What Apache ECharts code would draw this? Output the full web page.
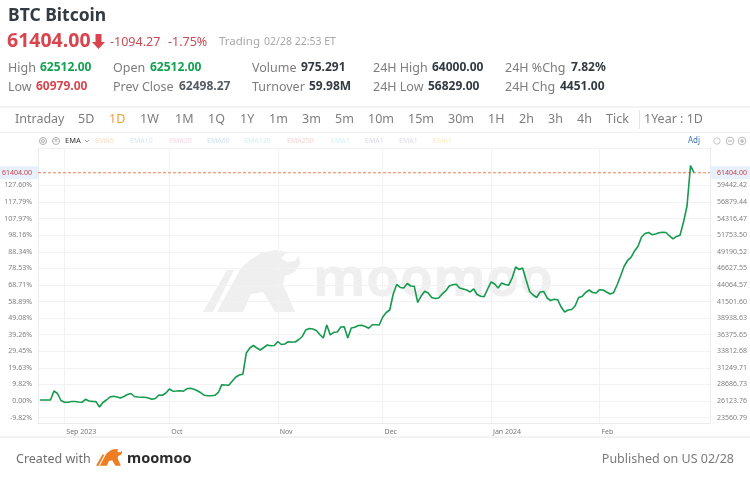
<!DOCTYPE html>
<html>
<head>
<meta charset="utf-8">
<style>html,body{margin:0;padding:0;background:#fff}#c{width:750px;height:479px}</style>
<script src="https://cdn.jsdelivr.net/npm/echarts@6/dist/echarts.min.js"></script>
</head>
<body>
<div id="c"></div>
<script>
const startDate = '2023-08-25';
const prices = [26279,26279,26279,26279,27670,27283,26201,25923,25938,26047,
26047,25969,25923,26387,26124,26062,26031,25196,25892,26279,
26742,26851,26742,26588,26820,27129,27283,26820,26742,26711,
26696,26588,26387,26511,27052,27005,27361,27979,27639,27670,
27716,27639,28010,28087,27948,27701,27392,27005,26943,26928,
27005,27438,28644,28598,28551,29216,29834,30144,30252,33545,
34318,34704,34318,34009,34395,34782,34673,34704,35323,34859,
34936,35292,35245,35245,35632,36096,37101,37333,37255,37023,
36405,35864,37874,36328,36745,36791,37564,37611,35864,37410,
37518,37796,37827,37642,37363,37920,37905,37874,39110,39806,
40193,42666,44135,43671,43594,44290,43903,43872,41352,42357,
43083,42821,42125,41971,42048,42666,43130,43903,44104,44181,
43594,43439,43285,42975,43439,42589,42326,42264,43439,44521,
44212,43594,44367,44135,44027,45140,46840,46454,46686,44831,
43053,42512,42125,42975,43053,42048,41661,41847,41785,40656,
39883,40193,40270,40811,42125,42280,42898,43285,42898,42821,
43331,43285,42975,42666,42867,44058,45449,46918,47845,48309,
49314,50056,51478,52020,52174,51834,51942,52128,52220,52174,
51633,51169,51556,51741,53797,56271,62502,61404];
const lastPrice = 61404;
const rightTicks = [23560.79,26123.76,28686.73,31249.71,33812.68,36375.65,38938.63,41501.60,44064.57,46627.55,49190.52,51753.50,54316.47,56879.44,59442.42];
const leftLabels = ['-9.82%','0.00%','9.82%','19.63%','29.45%','39.26%','49.08%','58.89%','68.71%','78.53%','88.34%','98.16%','107.97%','117.79%','127.60%'];
const monthDates = ['2023-09-01','2023-10-01','2023-11-01','2023-12-01','2024-01-01','2024-02-01'];
const monthLabels = ['Sep 2023','Oct','Nov','Dec','Jan 2024','Feb'];

const ts = s => new Date(s + 'T00:00:00').getTime();
const DAY = 86400000;
const xMin = ts(startDate) - 0.57 * DAY;
const xMax = ts(startDate) + 191.6 * DAY;
const seriesData = prices.map((p, i) => [ts(startDate) + i * DAY, p]);
const monthTs = monthDates.map(ts);

const FONT = '"Noto Sans","Open Sans",sans-serif';
const GRAY = '#7d7d7d', DARK = '#333a42', RED = '#d9454f', GREEN = '#12a150';
const t = (x, y, text, size, fill, weight, align) => ({
  type: 'text', x, y, silent: true, z: 10,
  style: { text, fontSize: size, fill, fontWeight: weight || 'normal', fontFamily: FONT, align: align || 'left', verticalAlign: 'middle' }
});
const hline = (y, x1, x2, c) => ({ type: 'line', silent: true, z: 1, shape: { x1, y1: y, x2, y2: y }, style: { stroke: c || '#e6e6e6', lineWidth: 1 } });
const vline = (x, y1, y2, c) => ({ type: 'line', silent: true, z: 1, shape: { x1: x, y1, x2: x, y2 }, style: { stroke: c || '#f0f0f0', lineWidth: 1 } });
const circ = (cx, cy, r, c) => ({ type: 'circle', silent: true, z: 10, shape: { cx, cy, r }, style: { fill: 'none', stroke: c, lineWidth: 0.8 } });

const periods = [['Intraday',15],['5D',78],['1D',109],['1W',140],['1M',175],['1Q',208],['1Y',240],['1m',269],['3m',302],['5m',335],['10m',368],['15m',408],['30m',448],['1H',488],['2h',519],['3h',548],['4h',577],['Tick',606],['1Year : 1D',644]];
const emas = [['EMA5',95,'#f8dcc4'],['EMA10',130,'#d5e6f3'],['EMA20',169,'#f8d5e4'],['EMA60',207,'#cfe0f3'],['EMA120',244,'#d2eeee'],['EMA250',287,'#f6d3d3'],['EMA1',331,'#d4f0f4'],['EMA1',365,'#d8d8ea'],['EMA1',399,'#dcdcec'],['EMA1',433,'#f8ecc0']];
// logo silhouette in a 97 x 62 box
const bullParts = [
  [[0,62],[24,20],[31,20],[10,62]],
  [[14,62],[38,18],[47,10],[58,3],[72,0],[84,2],[78,8],[84,12],[92,11],[96,5],[97,14],[92,22],[82,26],[80,34],[92,62],[72,62],[60,42],[48,44],[40,62]]
];
const logo = (x, y, scale, fill, z) => ({
  type: 'group', x, y, scaleX: scale, scaleY: scale, silent: true,
  children: bullParts.map(p => ({ type: 'polygon', z, silent: true, shape: { points: p }, style: { fill } }))
});
const lastLabel = { show: true, distance: 0, formatter: lastPrice.toFixed(2), color: '#c8434b', fontSize: 7, backgroundColor: '#e8f1fb' };

const option = {
  animation: false,
  backgroundColor: '#fff',
  textStyle: { fontFamily: FONT },
  grid: { left: 38, right: 39, top: 148, bottom: 56, show: false },
  xAxis: {
    type: 'value',
    min: xMin,
    max: xMax,
    axisLine: { show: true, onZero: false, lineStyle: { color: '#ececec' } },
    axisTick: { show: false, customValues: monthTs },
    splitLine: { show: true, lineStyle: { color: '#f2f2f2', width: 1 } },
    axisLabel: {
      customValues: monthTs, color: '#777', fontSize: 7, margin: 5, align: 'left', hideOverlap: false,
      formatter: v => ' ' + monthLabels[monthTs.indexOf(v)]
    }
  },
  yAxis: [0, 1].map(i => ({
    type: 'value',
    position: i ? 'right' : 'left',
    min: 22722, max: 65232,
    axisLine: { show: true, onZero: false, lineStyle: { color: '#ececec' } },
    axisTick: { show: false, customValues: rightTicks },
    splitLine: { show: i === 0, lineStyle: { color: '#f2f2f2', width: 1 } },
    axisLabel: {
      customValues: rightTicks, color: '#808080', fontSize: 7, margin: i ? 7 : 6,
      align: i ? 'left' : 'right',
      formatter: v => i ? v.toFixed(2) : leftLabels[rightTicks.indexOf(v)]
    }
  })),
  series: [{
    type: 'line',
    yAxisIndex: 1,
    data: [
      { value: [xMin, lastPrice], label: { ...lastLabel, position: 'left', padding: [3, 6, 3, 4] } },
      { value: [xMax, lastPrice], label: { ...lastLabel, position: 'right', padding: [3, 4, 3, 7] } }
    ],
    showSymbol: true,
    symbol: 'circle',
    symbolSize: 0.01,
    clip: false,
    silent: true,
    lineStyle: { color: '#ee7f58', type: [3, 2], width: 1 },
    z: 4
  }, {
    type: 'line',
    yAxisIndex: 1,
    data: seriesData,
    showSymbol: false,
    smooth: false,
    lineStyle: { color: '#159a4e', width: 1.6 },
    z: 5
  }],
  graphic: { elements: [
    logo(203, 250, 1, '#efefef', -1),
    { type: 'text', silent: true, z: -1, x: 313, y: 281, style: { text: 'moomoo', fontSize: 54, fontWeight: 'bold', fill: '#efefef', fontFamily: FONT, verticalAlign: 'middle' } },
    t(8, 16, 'BTC Bitcoin', 17.5, DARK, 'bold'),
    t(7, 41, '61404.00', 19.5, RED, 'bold'),
    { type: 'polygon', silent: true, z: 10, shape: { points: [[95.5,34],[101.5,34],[101.5,42],[105,42],[98.5,49],[92,42],[95.5,42]] }, style: { fill: RED } },
    t(110, 42, '-1094.27', 12.5, '#c84c56'),
    t(168, 42, '-1.75%', 12.5, '#c84c56'),
    t(219, 42, 'Trading', 11.5, '#a8a8a8'),
    t(264, 42, '02/28 22:53 ET', 10.5, '#a8a8a8'),
    t(8, 68, 'High', 12.5, GRAY), t(40, 68, '62512.00', 12, GREEN, 'bold'),
    t(113, 68, 'Open', 12.5, GRAY), t(150, 68, '62512.00', 12, GREEN, 'bold'),
    t(252, 68, 'Volume', 12.5, GRAY), t(301, 68, '975.291', 12, DARK, 'bold'),
    t(373, 68, '24H High', 12.5, GRAY), t(432, 68, '64000.00', 12, DARK, 'bold'),
    t(505, 68, '24H %Chg', 12.5, GRAY), t(571, 68, '7.82%', 12, DARK, 'bold'),
    t(8, 87, 'Low', 12.5, GRAY), t(36, 87, '60979.00', 12, RED, 'bold'),
    t(113, 87, 'Prev Close', 12.5, GRAY), t(179, 87, '62498.27', 12, '#555c63', 'bold'),
    t(252, 87, 'Turnover', 12.5, GRAY), t(309, 87, '59.98M', 12, DARK, 'bold'),
    t(373, 87, '24H Low', 12.5, GRAY), t(428, 87, '56829.00', 12, DARK, 'bold'),
    t(505, 87, '24H Chg', 12.5, GRAY), t(560, 87, '4451.00', 12, DARK, 'bold'),
    hline(107, 0, 750), hline(132.5, 0, 750, '#eeeeee'), hline(437, 0, 750),
    vline(639.5, 110, 129, '#dfe6ee'),
    ...periods.map(p => t(p[1], 119, p[0], 12.5, p[0] === '1D' ? '#e8a33d' : GRAY)),
    circ(43, 141, 3.5, '#999'), circ(43, 141, 1.5, '#999'), circ(56, 141, 3.5, '#999'),
    { type: 'text', silent: true, z: 10, x: 56, y: 141, style: { text: '×', fontSize: 7, fill: '#999', align: 'center', verticalAlign: 'middle', fontFamily: FONT } },
    t(65, 141, 'EMA', 7.5, '#333'),
    { type: 'polyline', silent: true, z: 10, shape: { points: [[85,140],[87,142],[89,140]] }, style: { fill: 'none', stroke: '#888', lineWidth: 0.8 } },
    ...emas.map(e => t(e[1], 141, e[0], 7, e[2])),
    t(688, 141, 'Adj', 8, '#3f74b8'),
    circ(730, 141, 3.8, '#aaa'), circ(742, 141, 3.8, '#aaa'), circ(717, 141, 3.2, '#bbb'),
    hline(141, 728, 732, '#aaa'), hline(141, 740, 744, '#aaa'), vline(742, 139, 143, '#aaa'),
    hline(148.5, 38, 711, '#f0f0f0'),
    t(16, 459, 'Created with', 12.5, '#6f6f6f'),
    logo(96, 449, 0.27, '#ee7d22', 10),
    t(127, 459, 'moomoo', 14.5, '#2b2b2b', 'bold'),
    t(734, 459, 'Published on US 02/28', 12.5, '#7a7a7a', 'normal', 'right')
  ] }
};
const chart = echarts.init(document.getElementById('c'), null, { renderer: 'canvas', width: 750, height: 479 });
chart.setOption(option);
</script>
</body>
</html>
